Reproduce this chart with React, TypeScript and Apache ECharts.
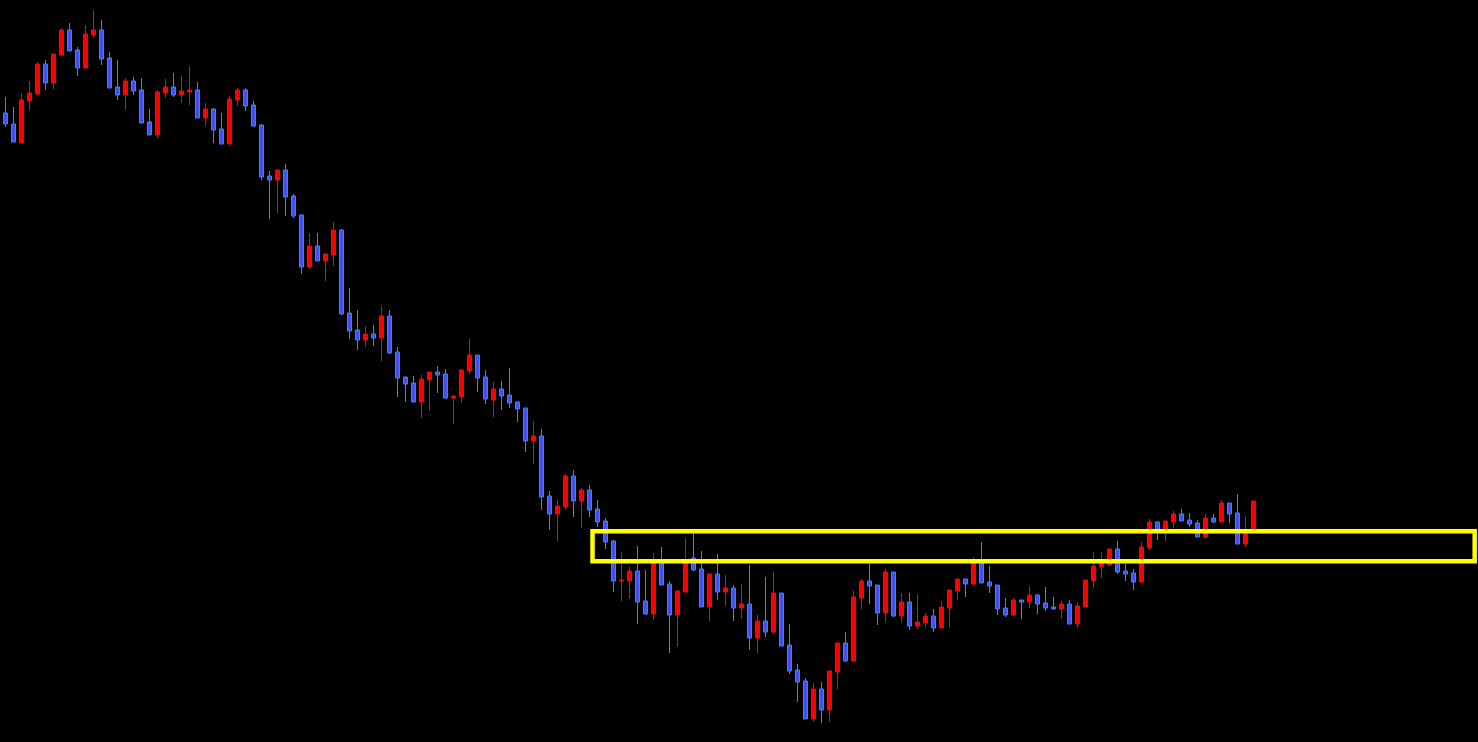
import React, { useEffect, useRef } from "react";
import * as echarts from "echarts";

// OHLC prices (arbitrary price points), one entry per bar
const opens = [
  629, 618, 599, 641, 648, 678, 659, 687, 712, 692,
  674, 707, 712, 684, 655, 647, 661, 652, 620, 607,
  649, 655, 647, 650, 652, 624, 633, 613, 598, 642,
  652, 637, 617, 566, 562, 572, 546, 527, 475, 496,
  481, 487, 512, 429, 412, 402, 408, 404, 426, 390,
  365, 359, 340, 362, 370, 368, 344, 345, 371, 387,
  365, 342, 353, 347, 340, 334, 301, 306, 246, 228,
  235, 266, 241, 252, 233, 221, 201, 161, 161, 171,
  141, 128, 181, 158, 127, 150, 184, 173, 135, 168,
  150, 154, 134, 138, 104, 121, 110, 149, 97, 72,
  61, 23, 53, 32, 70, 99, 81, 144, 161, 157,
  129, 170, 126, 140, 116, 119, 126, 114, 134, 151,
  163, 158, 179, 160, 157, 134, 127, 142, 140, 147,
  139, 135, 133, 138, 118, 135, 161, 175, 177, 193,
  171, 169, 160, 194, 220, 212, 220, 228, 222, 219,
  205, 224, 220, 239, 229, 198, 211,
];
const closes = [
  618, 600, 642, 649, 678, 659, 688, 712, 691, 674,
  708, 712, 683, 654, 647, 661, 651, 619, 607, 650,
  655, 647, 651, 652, 624, 633, 612, 598, 643, 652,
  636, 616, 565, 562, 572, 545, 526, 475, 496, 481,
  488, 512, 428, 411, 402, 408, 404, 426, 389, 364,
  358, 340, 363, 370, 367, 344, 346, 372, 387, 364,
  343, 353, 346, 339, 333, 301, 306, 245, 228, 236,
  266, 241, 252, 232, 220, 200, 161, 162, 171, 140,
  128, 180, 157, 127, 151, 181, 172, 135, 168, 150,
  154, 134, 138, 104, 121, 110, 149, 96, 71, 60,
  23, 53, 32, 71, 99, 81, 145, 161, 156, 129,
  170, 126, 140, 116, 120, 126, 114, 135, 152, 163,
  158, 179, 159, 156, 133, 127, 142, 140, 147, 138,
  134, 133, 138, 118, 136, 162, 176, 182, 193, 170,
  168, 160, 195, 220, 212, 221, 228, 221, 218, 205,
  224, 220, 239, 228, 198, 208, 241,
];
const lows = [
  615, 600, 599, 632, 647, 652, 653, 686, 691, 666,
  674, 704, 677, 654, 642, 632, 647, 619, 607, 603,
  644, 645, 639, 637, 624, 616, 599, 598, 598, 636,
  631, 615, 562, 523, 529, 526, 524, 468, 473, 481,
  461, 476, 427, 403, 392, 395, 396, 381, 388, 345,
  340, 340, 324, 331, 349, 343, 318, 339, 368, 350,
  338, 325, 332, 334, 320, 290, 278, 232, 212, 201,
  232, 225, 214, 225, 215, 193, 150, 141, 143, 118,
  127, 122, 157, 89, 95, 150, 171, 135, 121, 142,
  136, 121, 123, 92, 89, 105, 108, 96, 68, 40,
  23, 20, 19, 20, 53, 80, 81, 133, 138, 117,
  120, 125, 120, 112, 113, 114, 110, 114, 114, 142,
  145, 157, 159, 149, 127, 125, 126, 123, 134, 128,
  131, 132, 123, 118, 114, 135, 154, 164, 176, 168,
  161, 152, 160, 192, 202, 201, 214, 221, 215, 205,
  203, 219, 220, 219, 198, 195, 211,
];
const highs = [
  645, 635, 649, 661, 680, 682, 688, 714, 719, 695,
  717, 732, 722, 690, 682, 664, 665, 664, 633, 652,
  663, 669, 666, 676, 660, 639, 634, 629, 646, 654,
  654, 641, 618, 571, 572, 578, 548, 528, 509, 509,
  489, 520, 513, 454, 432, 416, 417, 436, 432, 395,
  365, 366, 367, 370, 376, 373, 347, 372, 403, 387,
  372, 360, 361, 374, 341, 334, 321, 313, 251, 242,
  268, 272, 254, 257, 242, 224, 202, 190, 175, 196,
  172, 189, 195, 161, 152, 204, 209, 191, 168, 188,
  167, 157, 158, 177, 127, 165, 170, 149, 118, 78,
  64, 59, 60, 71, 99, 110, 151, 163, 178, 157,
  173, 170, 149, 149, 148, 129, 133, 141, 152, 164,
  163, 185, 200, 176, 157, 144, 144, 142, 156, 148,
  155, 145, 141, 142, 140, 162, 190, 190, 193, 201,
  178, 173, 200, 223, 221, 221, 231, 233, 229, 222,
  228, 228, 242, 239, 248, 226, 241,
];

// total bar slots on the x axis (the right part is empty space)
const slotCount = 185;
const categories = Array.from({ length: slotCount }, (_, i) => String(i + 1));

// highlighted zone (bar-index range and price range)
const zoneStartBar = 73.4;
const zoneEndBar = 183.67;
const zoneLow = 180.7;
const zoneHigh = 210.7;

const priceMin = 0;
const priceMax = 742;

export default function App() {
  const ref = useRef<HTMLDivElement>(null);

  useEffect(() => {
    if (!ref.current) return;
    const chart = echarts.init(ref.current, undefined, { renderer: "svg" });
    const candles = opens.map((o, i) => [o, closes[i], lows[i], highs[i]]);
    chart.setOption({
      animation: false,
      backgroundColor: "#000000",
      grid: { left: 5.33, top: 0, width: 8 * (slotCount - 1), height: 742 },
      xAxis: [
        {
          type: "category",
          data: categories,
          boundaryGap: false,
          show: false,
        },
        {
          type: "value",
          min: 0,
          max: slotCount - 1,
          show: false,
        },
      ],
      yAxis: {
        type: "value",
        min: priceMin,
        max: priceMax,
        show: false,
        splitLine: { show: false },
      },
      series: [
        {
          type: "candlestick",
          data: candles,
          barWidth: 4,
          clip: false,
          z: 2,
          itemStyle: {
            color: "#ff0000",
            borderColor: "#ff0000",
            color0: "#4150f5",
            borderColor0: "#2b8cf7",
            borderWidth: 1,
          },
        },
        {
          type: "line",
          xAxisIndex: 1,
          data: [],
          silent: true,
          clip: false,
          z: 10,
          markArea: {
            silent: true,
            z: 10,
            itemStyle: {
              color: "rgba(0,0,0,0)",
              borderColor: "#ffff00",
              borderWidth: 4.5,
            },
            data: [
              [
                { xAxis: zoneStartBar, yAxis: zoneHigh },
                { xAxis: zoneEndBar, yAxis: zoneLow },
              ],
            ],
          },
        },
      ],
    });
    return () => chart.dispose();
  }, []);

  return (
    <div
      ref={ref}
      style={{
        position: "fixed",
        left: 0,
        top: 0,
        width: 1478,
        height: 742,
        background: "#000000",
      }}
    />
  );
}
